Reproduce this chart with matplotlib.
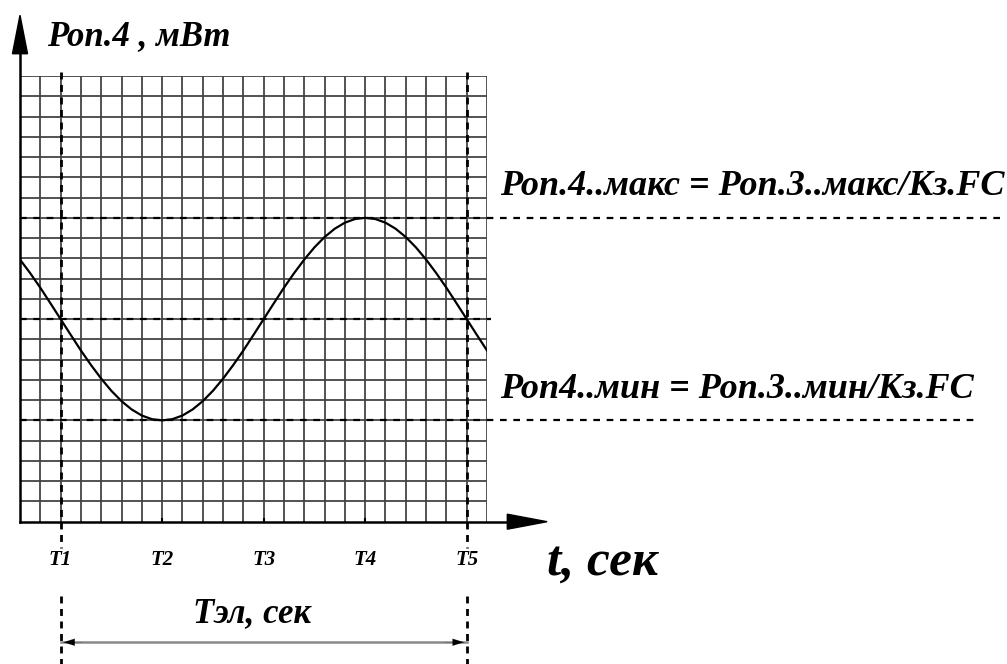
import numpy as np
import matplotlib
matplotlib.use("Agg")
import matplotlib.pyplot as plt

# grid size in cells
n_cols = 23
n_rows = 22

# curve (cell units, every half cell)
t_cells = np.arange(0, 23.5, 0.5)
p_values = [12.94, 12.27, 11.55, 10.78, 10.00, 9.22, 8.45, 7.73, 7.06, 6.46,
            5.95, 5.54, 5.24, 5.06, 5.00, 5.06, 5.24, 5.54, 5.95, 6.46,
            7.06, 7.73, 8.45, 9.22, 10.00, 10.78, 11.55, 12.27, 12.94, 13.54,
            14.05, 14.46, 14.76, 14.94, 15.00, 14.94, 14.76, 14.46, 14.05, 13.54,
            12.94, 12.27, 11.55, 10.78, 10.00, 9.22, 8.45]

tick_pos = [2, 7, 12, 17, 22]
tick_labels = ["T1", "T2", "T3", "T4", "T5"]

p_max = 15
p_mid = 10
p_min = 5

label_max = "Роп.4..макс = Роп.3..макс/Кз.FC"
label_min = "Роп4..мин = Роп.3..мин/Кз.FC"
y_title = "Роп.4 , мВт"
x_title = "t, сек"
period_title = "Тэл, сек"

FONT = "Liberation Serif"


def main():
    fig = plt.figure(figsize=(10.07, 6.64), dpi=100)
    ax = fig.add_axes([20 / 1007, (664 - 521.7) / 664, 467 / 1007, 445.7 / 664])
    ax.set_xlim(0, n_cols)
    ax.set_ylim(0, n_rows)
    ax.axis("off")

    grid_c = "#444444"
    ax.vlines(range(1, n_cols + 1), 0, n_rows, color=grid_c, lw=1.3, zorder=1)
    ax.hlines(range(1, n_rows + 1), 0, n_cols, color=grid_c, lw=1.3, zorder=1)

    # axes with arrows
    ax.plot([0, 24.2], [0, 0], color="black", lw=1.8, clip_on=False, zorder=4)
    ax.plot([0, 0], [0, 23.3], color="black", lw=1.8, clip_on=False, zorder=4)
    ax.fill([24.0, 25.96, 24.0], [0.37, 0, -0.37], color="black", clip_on=False, zorder=4)
    ax.fill([-0.37, 0, 0.37], [23.1, 25.0, 23.1], color="black", clip_on=False, zorder=4)
    ax.vlines(tick_pos[1:4], -0.2, 0.2, color="black", lw=1.5, zorder=4)

    # level lines
    dash = (0, (3, 3))
    ax.plot([0, 48.3], [p_max, p_max], color="black", lw=1.6, ls=dash, clip_on=False, zorder=3)
    ax.plot([0, 47.3], [p_min, p_min], color="black", lw=1.6, ls=dash, clip_on=False, zorder=3)
    ax.plot([0, 23.2], [p_mid, p_mid], color="black", lw=1.6, ls=dash, clip_on=False, zorder=3)

    # period markers T1 / T5
    vdash = (0, (2.5, 2))
    for x in (tick_pos[0], tick_pos[-1]):
        ax.plot([x, x], [22.2, -1.3], color="black", lw=2, ls=vdash, clip_on=False, zorder=3)
        ax.plot([x, x], [-3.67, -7.1], color="black", lw=2, ls=vdash, clip_on=False, zorder=3)

    # curve
    ax.plot(t_cells, p_values, color="black", lw=1.6, zorder=5)

    # texts
    tfont = dict(family=FONT, weight="bold", style="italic", color="black")
    for x, lab in zip(tick_pos, tick_labels):
        ax.text(x, -1.89, lab, ha="center", va="center", fontsize=15, clip_on=False, **tfont)
    ax.text(1.33, 23.53, y_title, ha="left", va="baseline", fontsize=25, **tfont)
    ax.text(25.96, -2.63, x_title, ha="left", va="baseline", fontsize=37, **tfont)
    ax.text(8.52, -4.95, period_title, ha="left", va="baseline", fontsize=25, **tfont)
    ax.text(23.65, 16.13, label_max, ha="left", va="baseline", fontsize=26, **tfont)
    ax.text(23.65, 6.1, label_min, ha="left", va="baseline", fontsize=26, **tfont)

    # period arrow
    y_arr = -5.95
    ax.plot([tick_pos[0], tick_pos[-1]], [y_arr, y_arr], color="#888888", lw=1.8, clip_on=False, zorder=2)
    ax.annotate("", xy=(tick_pos[0], y_arr), xytext=(tick_pos[0] + 1.2, y_arr),
                arrowprops=dict(arrowstyle="-|>,head_length=0.8,head_width=0.25", color="black", lw=0.1),
                annotation_clip=False)
    ax.annotate("", xy=(tick_pos[-1], y_arr), xytext=(tick_pos[-1] - 1.2, y_arr),
                arrowprops=dict(arrowstyle="-|>,head_length=0.8,head_width=0.25", color="black", lw=0.1),
                annotation_clip=False)

    fig.savefig("out.png", dpi=100, facecolor="white")


if __name__ == "__main__":
    main()
